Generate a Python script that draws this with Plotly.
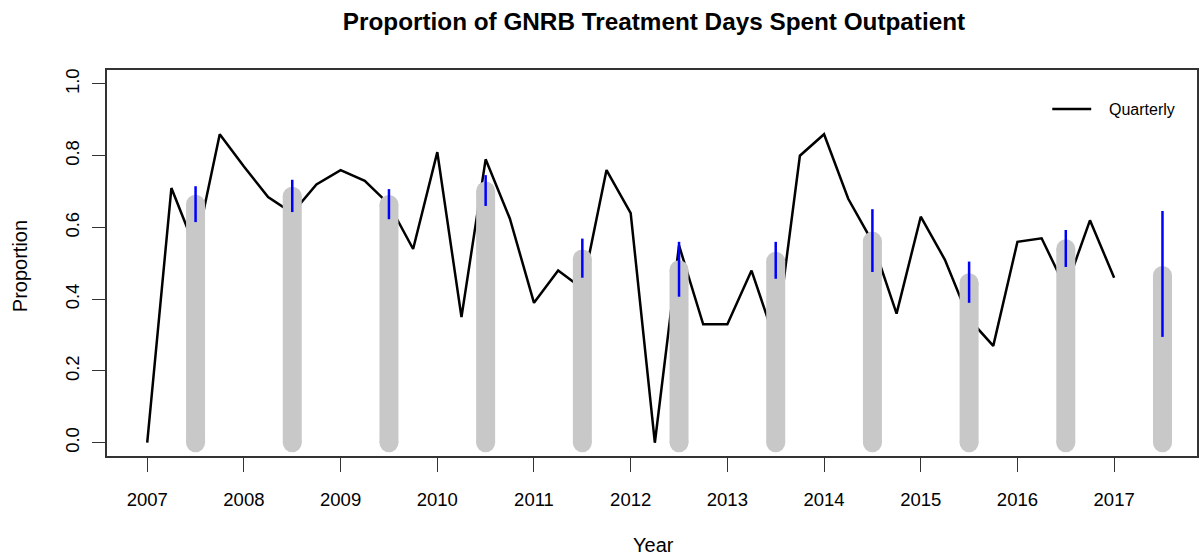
import plotly.graph_objects as go

# ---- data ----
quarter_x = [2007 + 0.25 * i for i in range(41)]
quarterly = [0.0, 0.71, 0.54, 0.86, 0.77, 0.685, 0.64, 0.72, 0.76, 0.73, 0.665,
             0.54, 0.81, 0.35, 0.79, 0.625, 0.39, 0.48, 0.43, 0.76, 0.64,
             0.0, 0.55, 0.33, 0.33, 0.48, 0.28, 0.80, 0.86, 0.68, 0.56,
             0.36, 0.63, 0.51, 0.345, 0.27, 0.56, 0.57, 0.43, 0.62, 0.46]
annual_x = [2007.5 + i for i in range(11)]
annual = [0.665, 0.687, 0.664, 0.702, 0.512, 0.482, 0.506, 0.562, 0.446, 0.541, 0.466]
ci_lo = [0.615, 0.643, 0.623, 0.660, 0.460, 0.407, 0.457, 0.476, 0.390, 0.490, 0.295]
ci_hi = [0.715, 0.733, 0.707, 0.746, 0.569, 0.560, 0.560, 0.651, 0.505, 0.593, 0.646]
year_ticks = list(range(2007, 2018))
y_ticks = [0.0, 0.2, 0.4, 0.6, 0.8, 1.0]
y_tick_labels = ["0.0", "0.2", "0.4", "0.6", "0.8", "1.0"]

FONT = "Liberation Sans, Arial, Helvetica, sans-serif"
GRAY = "#c8c8c8"

fig = go.Figure()

# quarterly line
fig.add_trace(go.Scatter(x=quarter_x, y=quarterly, mode="lines",
                         line=dict(color="black", width=2.5),
                         name="Quarterly", showlegend=False, hoverinfo="skip"))

# gray annual bars (thick lines with round caps)
gx, gy = [], []
for x, v in zip(annual_x, annual):
    gx += [x, x, None]
    gy += [0, v, None]
fig.add_trace(go.Scatter(x=gx, y=gy, mode="lines",
                         line=dict(color=GRAY, width=19),
                         showlegend=False, hoverinfo="skip"))
cx, cy = [], []
for x, v in zip(annual_x, annual):
    cx += [x, x]
    cy += [0, v]
fig.add_trace(go.Scatter(x=cx, y=cy, mode="markers",
                         marker=dict(color=GRAY, size=19, line=dict(width=0)),
                         showlegend=False, hoverinfo="skip"))

# blue confidence intervals
bx, by = [], []
for x, lo, hi in zip(annual_x, ci_lo, ci_hi):
    bx += [x, x, None]
    by += [lo, hi, None]
fig.add_trace(go.Scatter(x=bx, y=by, mode="lines",
                         line=dict(color="#0000ff", width=2.5),
                         showlegend=False, hoverinfo="skip"))

W, H = 1199, 559
L, R, T, B = 107, 0, 70, 103
plot_w = W - L - R
plot_h = H - T - B

def px_x(p):
    return (p - L) / plot_w

def px_y(p):
    return (T + plot_h - p) / plot_h

fig.update_layout(
    width=W, height=H,
    margin=dict(l=L, r=R, t=T, b=B),
    paper_bgcolor="white", plot_bgcolor="white",
    font=dict(family=FONT, color="black", size=18),
    title=dict(text="<b>Proportion of GNRB Treatment Days Spent Outpatient</b>",
               x=px_x(655), xref="paper", y=1 - 21 / H, yref="container",
               xanchor="center", yanchor="middle",
               font=dict(family=FONT, size=24.3, color="black")),
    showlegend=False,
)

fig.update_xaxes(range=[2006.584, 2017.857], tickmode="array",
                 tickvals=year_ticks, ticktext=[str(y) for y in year_ticks],
                 ticks="outside", ticklen=14, tickwidth=1.2, tickcolor="#333",
                 showline=True, linecolor="#333", linewidth=1.5, mirror=True,
                 showgrid=False, zeroline=False,
                 tickfont=dict(size=18.5), ticklabelstandoff=12)
fig.update_yaxes(range=[-0.037, 1.039], tickmode="array",
                 tickvals=y_ticks, ticktext=y_tick_labels,
                 ticks="outside", ticklen=13, tickwidth=1.2, tickcolor="#333",
                 showline=True, linecolor="#333", linewidth=1.5, mirror=True,
                 showgrid=False, zeroline=False, tickangle=-90,
                 tickfont=dict(size=18.5), ticklabelstandoff=6)

# axis titles
fig.add_annotation(text="Year", xref="paper", yref="paper",
                   x=px_x(655), y=px_y(545),
                   showarrow=False, xanchor="center", yanchor="middle",
                   font=dict(family=FONT, size=20, color="black"))
fig.add_annotation(text="Proportion", xref="paper", yref="paper",
                   x=px_x(20), y=px_y(266), textangle=-90,
                   showarrow=False, xanchor="center", yanchor="middle",
                   font=dict(family=FONT, size=20, color="black"))

# legend (R-style, no box)
fig.add_shape(type="line", xref="paper", yref="paper",
              x0=px_x(1054), x1=px_x(1093), y0=px_y(109), y1=px_y(109),
              line=dict(color="black", width=2.5))
fig.add_annotation(text="Quarterly", xref="paper", yref="paper",
                   x=px_x(1109), y=px_y(109), showarrow=False,
                   xanchor="left", yanchor="middle",
                   font=dict(family=FONT, size=16, color="black"))

fig.write_html("out.html", config={"displayModeBar": False},
               post_script="document.body.style.margin='0';")
